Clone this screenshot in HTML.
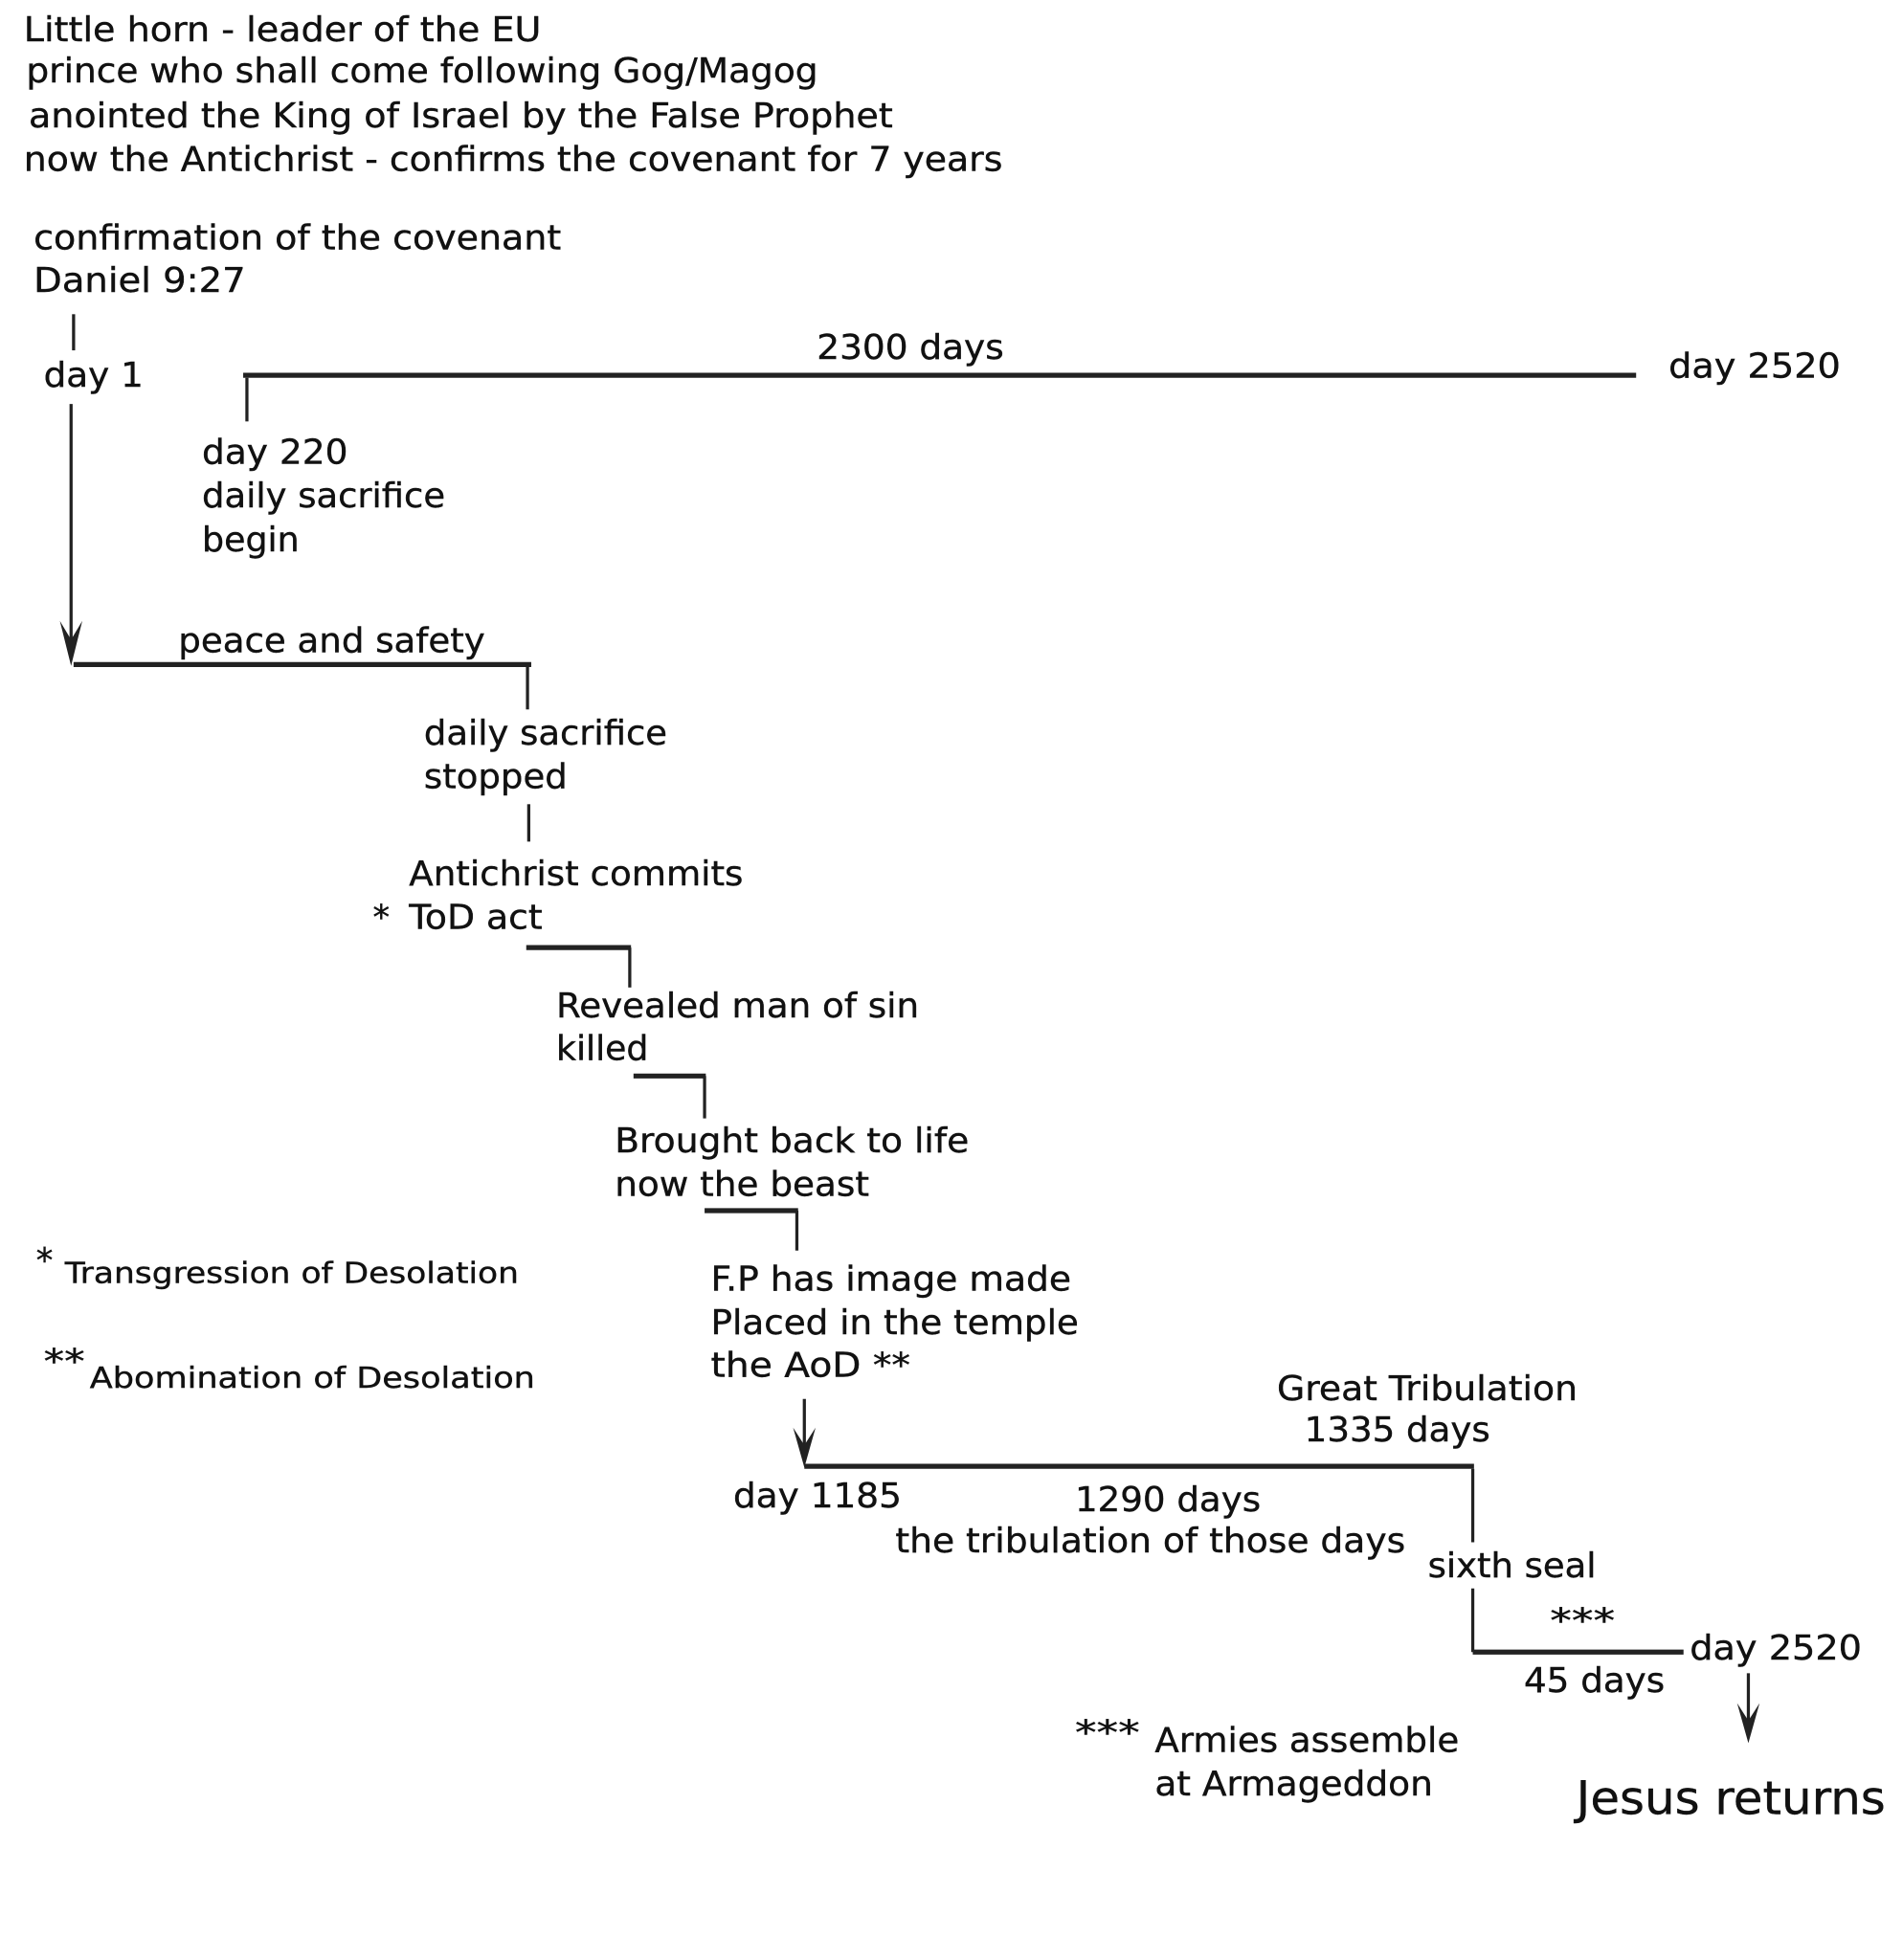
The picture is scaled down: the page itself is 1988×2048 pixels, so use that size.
<!DOCTYPE html>
<html><head><meta charset="utf-8"><style>
html,body{margin:0;padding:0;background:#fff;}
svg{display:block;}
text{font-family:"DejaVu Sans","Liberation Sans",sans-serif;font-size:27px;fill:#111;stroke:#111;stroke-width:0.3px;}
.s{font-size:23px;}
</style></head><body>
<svg width="1988" height="2048" viewBox="0 0 1526 1572" preserveAspectRatio="none" xmlns="http://www.w3.org/2000/svg">
<g transform="translate(2,2)">
<text x="17" y="31" textLength="415" lengthAdjust="spacingAndGlyphs">Little horn - leader of the EU</text>
<text x="19" y="64" textLength="635" lengthAdjust="spacingAndGlyphs">prince who shall come following Gog/Magog</text>
<text x="21" y="100" textLength="693" lengthAdjust="spacingAndGlyphs">anointed the King of Israel by the False Prophet</text>
<text x="17" y="135" textLength="785" lengthAdjust="spacingAndGlyphs">now the Antichrist - confirms the covenant for 7 years</text>
<text x="25" y="198" textLength="423" lengthAdjust="spacingAndGlyphs">confirmation of the covenant</text>
<text x="25" y="232" textLength="170" lengthAdjust="spacingAndGlyphs">Daniel 9:27</text>
<text x="33" y="308" textLength="80" lengthAdjust="spacingAndGlyphs">day 1</text>
<text x="653" y="286" textLength="150" lengthAdjust="spacingAndGlyphs">2300 days</text>
<text x="1336" y="301" textLength="138" lengthAdjust="spacingAndGlyphs">day 2520</text>
<text x="160" y="370" textLength="117" lengthAdjust="spacingAndGlyphs">day 220</text>
<text x="160" y="405" textLength="195" lengthAdjust="spacingAndGlyphs">daily sacrifice</text>
<text x="160" y="440" textLength="78" lengthAdjust="spacingAndGlyphs">begin</text>
<text x="141" y="521" textLength="246" lengthAdjust="spacingAndGlyphs">peace and safety</text>
<text x="338" y="595" textLength="195" lengthAdjust="spacingAndGlyphs">daily sacrifice</text>
<text x="338" y="630" textLength="115" lengthAdjust="spacingAndGlyphs">stopped</text>
<text x="326" y="708" textLength="268" lengthAdjust="spacingAndGlyphs">Antichrist commits</text>
<text x="297" y="743">*</text>
<text x="326" y="743" textLength="107" lengthAdjust="spacingAndGlyphs">ToD act</text>
<text x="444" y="814" textLength="291" lengthAdjust="spacingAndGlyphs">Revealed man of sin</text>
<text x="444" y="848" textLength="74" lengthAdjust="spacingAndGlyphs">killed</text>
<text x="491" y="922" textLength="284" lengthAdjust="spacingAndGlyphs">Brought back to life</text>
<text x="491" y="957" textLength="204" lengthAdjust="spacingAndGlyphs">now the beast</text>
<text x="568" y="1033" textLength="289" lengthAdjust="spacingAndGlyphs">F.P has image made</text>
<text x="568" y="1068" textLength="295" lengthAdjust="spacingAndGlyphs">Placed in the temple</text>
<text x="568" y="1102" textLength="160" lengthAdjust="spacingAndGlyphs">the AoD **</text>
<text x="27" y="1018">*</text>
<text class="s" x="50" y="1027" textLength="364" lengthAdjust="spacingAndGlyphs">Transgression of Desolation</text>
<text x="33" y="1099" textLength="33" lengthAdjust="spacingAndGlyphs">**</text>
<text class="s" x="70" y="1111" textLength="357" lengthAdjust="spacingAndGlyphs">Abomination of Desolation</text>
<text x="1022" y="1121" textLength="241" lengthAdjust="spacingAndGlyphs">Great Tribulation</text>
<text x="1044" y="1154" textLength="149" lengthAdjust="spacingAndGlyphs">1335 days</text>
<text x="586" y="1207" textLength="135" lengthAdjust="spacingAndGlyphs">day 1185</text>
<text x="860" y="1210" textLength="149" lengthAdjust="spacingAndGlyphs">1290 days</text>
<text x="716" y="1243" textLength="409" lengthAdjust="spacingAndGlyphs">the tribulation of those days</text>
<text x="1143" y="1263" textLength="135" lengthAdjust="spacingAndGlyphs">sixth seal</text>
<text x="1241" y="1307" textLength="52" lengthAdjust="spacingAndGlyphs">***</text>
<text x="1353" y="1329" textLength="138" lengthAdjust="spacingAndGlyphs">day 2520</text>
<text x="1220" y="1355" textLength="113" lengthAdjust="spacingAndGlyphs">45 days</text>
<text x="860" y="1397" textLength="52" lengthAdjust="spacingAndGlyphs">***</text>
<text x="924" y="1403" textLength="244" lengthAdjust="spacingAndGlyphs">Armies assemble</text>
<text x="924" y="1438" textLength="223" lengthAdjust="spacingAndGlyphs">at Armageddon</text>
<text x="1262" y="1453" style="font-size:37px" textLength="248" lengthAdjust="spacingAndGlyphs">Jesus returns</text>
<g stroke="#222" fill="none" stroke-width="2.5">
<line x1="57" y1="250" x2="57" y2="279"/>
<line x1="55" y1="322" x2="55" y2="520"/>
<line x1="196" y1="301" x2="196" y2="336"/>
<line x1="421" y1="531" x2="421" y2="567"/>
<line x1="422" y1="643" x2="422" y2="673"/>
<line x1="503" y1="758" x2="503" y2="790"/>
<line x1="563" y1="861" x2="563" y2="895"/>
<line x1="637" y1="969" x2="637" y2="1001"/>
<line x1="643" y1="1120" x2="643" y2="1165"/>
<line x1="1179" y1="1176" x2="1179" y2="1235"/>
<line x1="1179" y1="1272" x2="1179" y2="1323"/>
<line x1="1400" y1="1340" x2="1400" y2="1385"/>
</g>
<g stroke="#222" fill="none" stroke-width="4">
<line x1="193" y1="299" x2="1310" y2="299"/>
<line x1="57" y1="531" x2="424" y2="531"/>
<line x1="420" y1="758" x2="504" y2="758"/>
<line x1="506" y1="861" x2="564" y2="861"/>
<line x1="563" y1="969" x2="638" y2="969"/>
<line x1="643" y1="1174" x2="1180" y2="1174"/>
<line x1="1179" y1="1323" x2="1348" y2="1323"/>
</g>
<g fill="#222">
<polygon points="46,496 55,511 64,496 55,532"/>
<polygon points="634,1143 643,1157 652,1143 643,1175"/>
<polygon points="1391,1364 1400,1378 1409,1364 1400,1396"/>
</g>
</g>
</svg>
</body></html>
